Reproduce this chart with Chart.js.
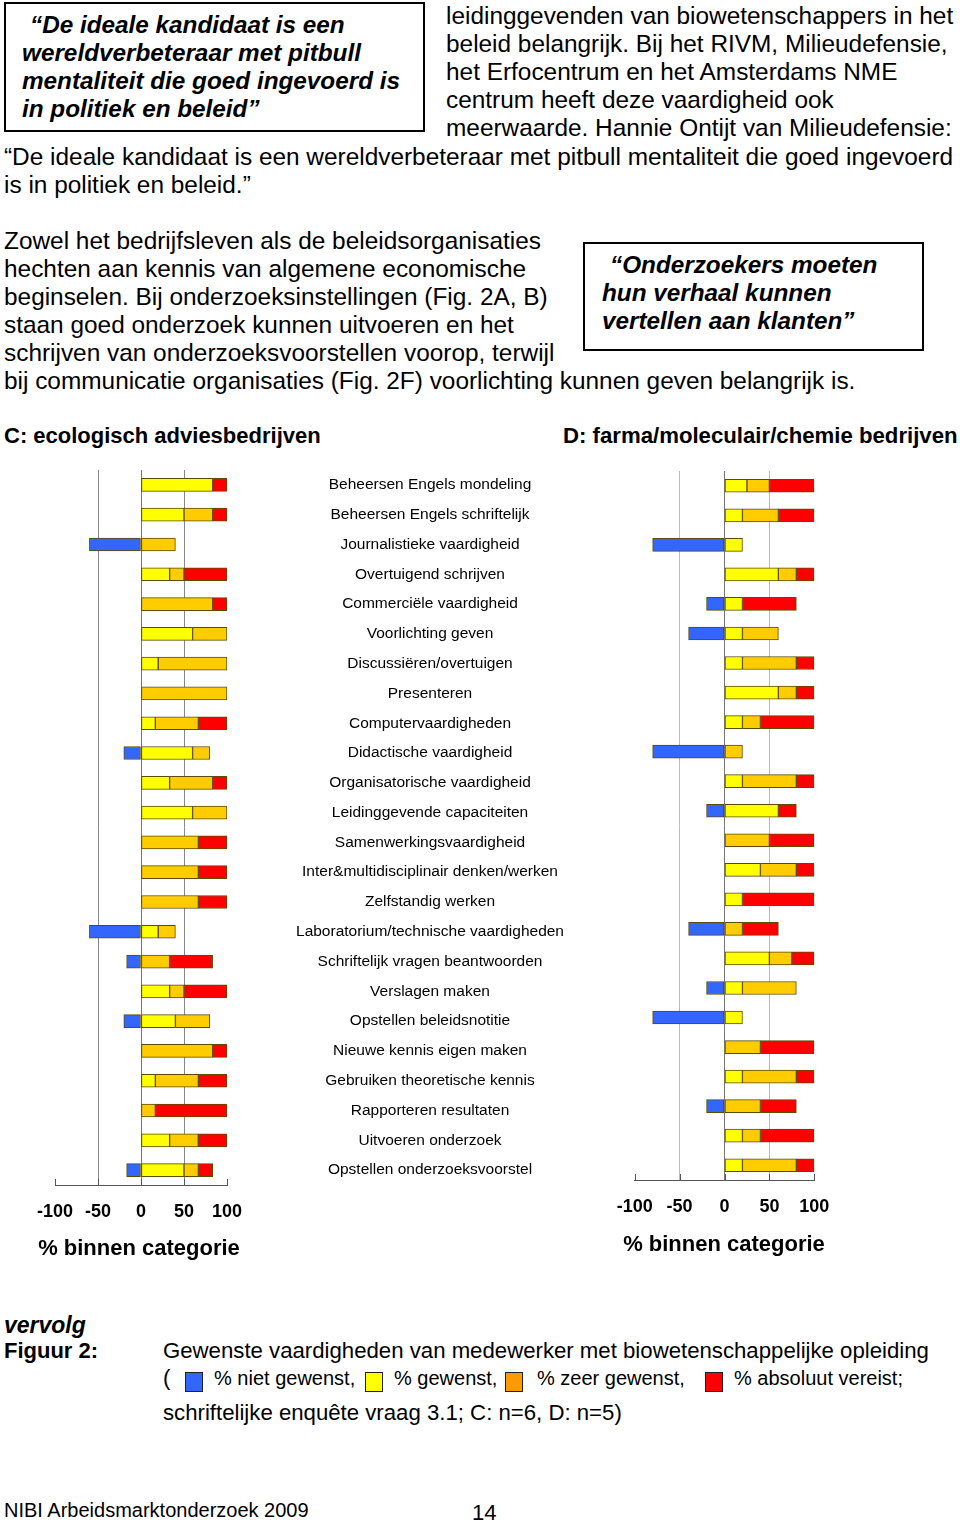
<!DOCTYPE html>
<html>
<head>
<meta charset="utf-8">
<script src="https://cdn.jsdelivr.net/npm/chart.js@4.4.1/dist/chart.umd.min.js"></script>
<style>
body { margin: 0; background: #fff; }
#page { position: relative; width: 960px; height: 1523px; overflow: hidden;
  font-family: "Liberation Sans", Arial, Helvetica, sans-serif; color: #000; }
.t { position: absolute; white-space: nowrap; font-size: 24.4px; line-height: 28px; }
.q { position: absolute; white-space: nowrap; font-size: 24.3px; line-height: 28px; font-weight: bold; font-style: italic; }
.kop { position: absolute; white-space: nowrap; font-size: 22px; line-height: 28px; font-weight: bold; }
.cap { position: absolute; white-space: nowrap; font-size: 22.2px; line-height: 28px; }
.leg { position: absolute; white-space: nowrap; font-size: 20px; line-height: 28px; }
.box { position: absolute; border: 2px solid #000; box-sizing: border-box; }
.sq { position: absolute; width: 18px; height: 20px; border: 1px solid #222; box-sizing: border-box; }
.ast { position: absolute; white-space: nowrap; font-size: 22px; line-height: 28px; font-weight: bold; width: 220px; text-align: center; }
canvas { position: absolute; }
</style>
</head>
<body>
<div id="page">
  <!-- bovenste blok -->
  <div class="box" style="left:4px;top:2px;width:421px;height:130px;"></div>
  <div class="q" style="left:30px;top:11px;">“De ideale kandidaat is een</div>
  <div class="q" style="left:22px;top:39px;">wereldverbeteraar met pitbull</div>
  <div class="q" style="left:22px;top:67px;">mentaliteit die goed ingevoerd is</div>
  <div class="q" style="left:22px;top:95px;">in politiek en beleid”</div>

  <div class="t" style="left:446px;top:2px;">leidinggevenden van biowetenschappers in het</div>
  <div class="t" style="left:446px;top:30px;">beleid belangrijk. Bij het RIVM, Milieudefensie,</div>
  <div class="t" style="left:446px;top:58px;">het Erfocentrum en het Amsterdams NME</div>
  <div class="t" style="left:446px;top:86px;">centrum heeft deze vaardigheid ook</div>
  <div class="t" style="left:446px;top:114px;">meerwaarde. Hannie Ontijt van Milieudefensie:</div>
  <div class="t" style="left:4px;top:143px;">“De ideale kandidaat is een wereldverbeteraar met pitbull mentaliteit die goed ingevoerd</div>
  <div class="t" style="left:4px;top:171px;">is in politiek en beleid.”</div>

  <!-- tweede blok -->
  <div class="t" style="left:4px;top:227px;">Zowel het bedrijfsleven als de beleidsorganisaties</div>
  <div class="t" style="left:4px;top:255px;">hechten aan kennis van algemene economische</div>
  <div class="t" style="left:4px;top:283px;">beginselen. Bij onderzoeksinstellingen (Fig. 2A, B)</div>
  <div class="t" style="left:4px;top:311px;">staan goed onderzoek kunnen uitvoeren en het</div>
  <div class="t" style="left:4px;top:339px;">schrijven van onderzoeksvoorstellen voorop, terwijl</div>
  <div class="t" style="left:4px;top:367px;">bij communicatie organisaties (Fig. 2F) voorlichting kunnen geven belangrijk is.</div>

  <div class="box" style="left:583px;top:242px;width:341px;height:109px;"></div>
  <div class="q" style="left:610px;top:251px;">“Onderzoekers moeten</div>
  <div class="q" style="left:602px;top:279px;">hun verhaal kunnen</div>
  <div class="q" style="left:602px;top:307px;">vertellen aan klanten”</div>

  <div class="kop" style="left:4px;top:422px;">C: ecologisch adviesbedrijven</div>
  <div class="kop" style="left:563px;top:422px;font-size:22.2px;">D: farma/moleculair/chemie bedrijven</div>

  <canvas id="chartC" width="633" height="824" style="left:0px;top:440px;width:633px;height:824px;"></canvas>
  <canvas id="chartD" width="370" height="818" style="left:590px;top:441px;width:370px;height:818px;"></canvas>

  <!-- as-titels -->
  <div class="ast" style="left:29px;top:1234px;">% binnen categorie</div>
  <div class="ast" style="left:614px;top:1230px;">% binnen categorie</div>

  <!-- onderschrift -->
  <div class="kop" style="left:4px;top:1311px;font-style:italic;font-size:23px;">vervolg</div>
  <div class="kop" style="left:4px;top:1337px;">Figuur 2:</div>
  <div class="cap" style="left:163px;top:1337px;">Gewenste vaardigheden van medewerker met biowetenschappelijke opleiding</div>
  <div class="cap" style="left:163px;top:1364px;">(</div>
  <div class="sq" style="left:185px;top:1372px;background:#3366ff;"></div>
  <div class="leg" style="left:214px;top:1364px;">% niet gewenst,</div>
  <div class="sq" style="left:365px;top:1372px;background:#ffff00;"></div>
  <div class="leg" style="left:394px;top:1364px;">% gewenst,</div>
  <div class="sq" style="left:505px;top:1372px;background:#ff9900;"></div>
  <div class="leg" style="left:537px;top:1364px;">% zeer gewenst,</div>
  <div class="sq" style="left:705px;top:1372px;background:#ff0000;"></div>
  <div class="leg" style="left:734px;top:1364px;">% absoluut vereist;</div>
  <div class="cap" style="left:163px;top:1399px;">schriftelijke enquête vraag 3.1; C: n=6, D: n=5)</div>

  <div class="cap" style="left:4px;top:1496px;font-size:20px;">NIBI Arbeidsmarktonderzoek 2009</div>
  <div class="cap" style="left:472px;top:1499px;">14</div>
</div>

<script>
// vaardigheden (van boven naar beneden)
const skills = [
  'Beheersen Engels mondeling', 'Beheersen Engels schriftelijk', 'Journalistieke vaardigheid',
  'Overtuigend schrijven', 'Commerciële vaardigheid', 'Voorlichting geven',
  'Discussiëren/overtuigen', 'Presenteren', 'Computervaardigheden',
  'Didactische vaardigheid', 'Organisatorische vaardigheid', 'Leidinggevende capaciteiten',
  'Samenwerkingsvaardigheid', 'Inter&multidisciplinair denken/werken', 'Zelfstandig werken',
  'Laboratorium/technische vaardigheden', 'Schriftelijk vragen beantwoorden', 'Verslagen maken',
  'Opstellen beleidsnotitie', 'Nieuwe kennis eigen maken', 'Gebruiken theoretische kennis',
  'Rapporteren resultaten', 'Uitvoeren onderzoek', 'Opstellen onderzoeksvoorstel'
];
const xTicks = [-100, -50, 0, 50, 100];

// C: ecologisch adviesbedrijven (n=6)
const cNiet    = [0, 0, -60, 0, 0, 0, 0, 0, 0, -20, 0, 0, 0, 0, 0, -60, -16.7, 0, -20, 0, 0, 0, 0, -16.7];
const cGewenst = [83.3, 50, 0, 33.3, 0, 60, 20, 0, 16.7, 60, 33.3, 60, 0, 0, 0, 20, 0, 33.3, 40, 0, 16.7, 0, 33.3, 50];
const cZeer    = [0, 33.3, 40, 16.7, 83.3, 40, 80, 100, 50, 20, 50, 40, 66.7, 66.7, 66.7, 20, 33.3, 16.7, 40, 83.3, 50, 16.7, 33.3, 16.7];
const cVereist = [16.7, 16.7, 0, 50, 16.7, 0, 0, 0, 33.3, 0, 16.7, 0, 33.3, 33.3, 33.3, 0, 50, 50, 0, 16.7, 33.3, 83.3, 33.3, 16.7];

// D: farma/moleculair/chemie bedrijven (n=5)
const dNiet    = [0, 0, -80, 0, -20, -40, 0, 0, 0, -80, 0, -20, 0, 0, 0, -40, 0, -20, -80, 0, 0, -20, 0, 0];
const dGewenst = [25, 20, 20, 60, 20, 20, 20, 60, 20, 0, 20, 60, 0, 40, 20, 0, 50, 20, 20, 0, 20, 0, 20, 20];
const dZeer    = [25, 40, 0, 20, 0, 40, 60, 20, 20, 20, 60, 0, 50, 40, 0, 20, 25, 60, 0, 40, 60, 40, 20, 60];
const dVereist = [50, 40, 0, 20, 60, 0, 20, 20, 60, 0, 20, 20, 50, 20, 80, 40, 25, 0, 0, 60, 20, 40, 60, 20];

const reeksNamen = ['% niet gewenst', '% gewenst', '% zeer gewenst', '% absoluut vereist'];
const kleuren = ['#3366ff', '#ffff00', '#ffcc00', '#ff0000'];

Chart.defaults.font.family = '"Liberation Sans", Arial, Helvetica, sans-serif';
Chart.defaults.color = '#000';

// kleine streepjes omhoog op de x-as
const tickjesOmhoog = {
  id: 'tickjesOmhoog',
  afterDraw(chart) {
    const sx = chart.scales.x;
    const ctx = chart.ctx;
    ctx.save();
    ctx.strokeStyle = '#555';
    ctx.lineWidth = 1;
    sx.ticks.forEach(t => {
      const px = Math.round(sx.getPixelForValue(t.value)) + 0.5;
      ctx.beginPath();
      ctx.moveTo(px, sx.top);
      ctx.lineTo(px, sx.top - 6);
      ctx.stroke();
    });
    ctx.restore();
  }
};

// breedte van het langste label meten om de labels te centreren
const meet = document.createElement('canvas').getContext('2d');
meet.font = '15.5px "Liberation Sans", Arial, sans-serif';
const breedste = Math.max(...skills.map(s => meet.measureText(s).width));

function maakGrafiek(id, reeksen, metLabels, padding, gridKleur) {
  const ctx = document.getElementById(id).getContext('2d');
  return new Chart(ctx, {
    type: 'bar',
    data: {
      labels: skills,
      datasets: reeksen.map((r, i) => ({
        label: reeksNamen[i],
        data: r.map(v => v === 0 ? null : v),
        backgroundColor: kleuren[i],
        borderColor: '#5c4b00',
        borderWidth: 1,
        borderSkipped: false,
        barThickness: 13
      }))
    },
    options: {
      indexAxis: 'y',
      responsive: false,
      animation: false,
      layout: { padding: padding },
      plugins: { legend: { display: false }, tooltip: { enabled: false } },
      scales: {
        x: {
          stacked: true,
          min: -100,
          max: 100,
          afterBuildTicks: scale => { scale.ticks = xTicks.map(v => ({ value: v })); },
          afterFit: scale => { scale.height = 79; },
          grid: {
            drawTicks: false,
            lineWidth: 1,
            color: c => {
              const v = c.tick ? c.tick.value : null;
              if (v === 0) return '#777';
              if (v === -100 || v === 100) return 'rgba(0,0,0,0)';
              return gridKleur;
            }
          },
          border: { display: true, color: '#555', width: 1 },
          ticks: { font: { size: 18, weight: 'bold' }, color: '#000', padding: 16, maxRotation: 0 },
          title: { display: false }
        },
        y: {
          stacked: true,
          display: metLabels,
          position: 'right',
          afterFit: scale => {
            if (metLabels) {
              scale.width = 406;
              scale.paddingTop = 0;
              scale.paddingBottom = 0;
            }
          },
          grid: { display: false, drawTicks: false },
          border: { display: false },
          ticks: {
            autoSkip: false,
            crossAlign: 'center',
            padding: 203 - breedste / 2,
            font: { size: 15.5 },
            color: '#000'
          }
        }
      }
    },
    plugins: [tickjesOmhoog]
  });
}

maakGrafiek('chartC', [cNiet, cGewenst, cZeer, cVereist], true,
  { left: 55, right: 0, top: 30, bottom: 0 }, '#888');
maakGrafiek('chartD', [dNiet, dGewenst, dZeer, dVereist], false,
  { left: 44.7, right: 145.7, top: 30, bottom: 0 }, '#bbb');
</script>
</body>
</html>
